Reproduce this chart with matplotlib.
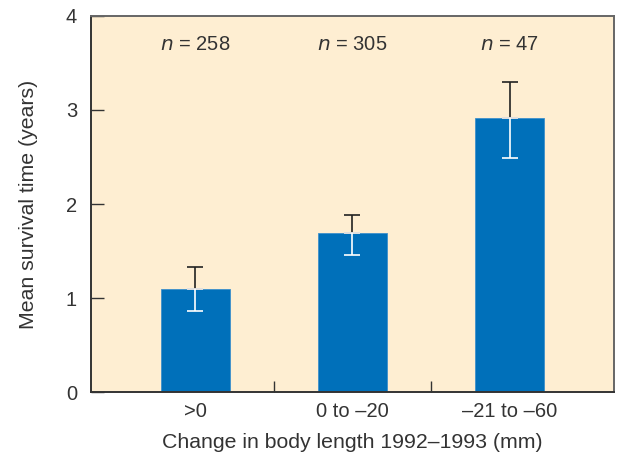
import numpy as np
import matplotlib.pyplot as plt

categories = ['>0', '0 to \u201320', '\u201321 to \u201360']
means = [1.10, 1.69, 2.91]
err_hi = [1.33, 1.88, 3.30]
err_lo = [0.86, 1.46, 2.49]
counts = [258, 305, 47]

plt.rcParams['font.family'] = ['Liberation Sans', 'DejaVu Sans']
text_col = '#333333'

fig = plt.figure(figsize=(6.17, 4.57), dpi=100)
ax = fig.add_axes([0.1475, 0.1422, 0.8476, 0.8228])
ax.set_facecolor('#feeed2')

x = np.arange(len(categories))
ax.bar(x, means, width=0.44, color='#0070ba', edgecolor='#3d8fcc', linewidth=0.6, zorder=2)

# upper half of error bar in black, lower half in white
for xi, m, hi, lo in zip(x, means, err_hi, err_lo):
    ax.errorbar([xi], [m], yerr=[[0], [hi - m]], fmt='none', ecolor='#222222',
                elinewidth=1.2, capsize=5.5, capthick=1.2, zorder=3)
    ax.errorbar([xi], [m], yerr=[[m - lo], [0]], fmt='none', ecolor='white',
                elinewidth=1.2, capsize=5.5, capthick=1.2, zorder=3)

for xi, n in zip(x, counts):
    ax.text(xi, 3.7, '$n$ = %d' % n, ha='center', va='center', fontsize=14.5, color=text_col)

ax.set_xlim(-0.665, 2.665)
ax.set_ylim(0, 4)
ax.set_yticks([0, 1, 2, 3, 4])
ax.set_xticks(x)
ax.set_xticklabels(categories)
ax.set_xticks([0.5, 1.5], minor=True)
ax.tick_params(axis='x', which='major', length=0, pad=7, labelsize=14.5, labelcolor=text_col)
ax.tick_params(axis='x', which='minor', direction='in', length=8, width=1, color='#333333')
ax.tick_params(axis='y', direction='in', length=9, width=1, color='#333333', pad=10,
               labelsize=14.5, labelcolor=text_col)

for side in ['left', 'bottom']:
    ax.spines[side].set_color('#333333')
    ax.spines[side].set_linewidth(1.4)
for side in ['top', 'right']:
    ax.spines[side].set_color('#666666')
    ax.spines[side].set_linewidth(1.4)

ax.set_xlabel('Change in body length 1992\u20131993 (mm)', fontsize=15.3, color=text_col, labelpad=9)
ax.set_ylabel('Mean survival time (years)', fontsize=15.3, color=text_col, labelpad=20)

fig.savefig('out.png', dpi=100)
